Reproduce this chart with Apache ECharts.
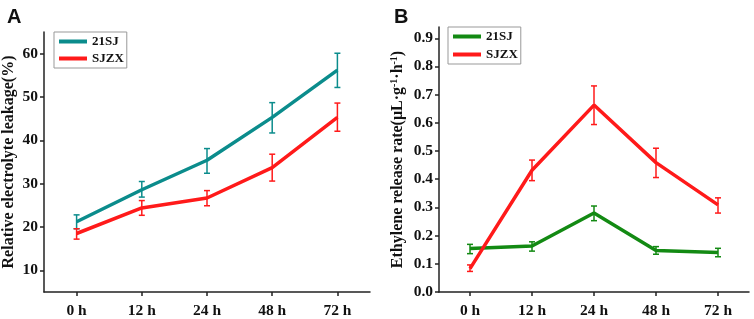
<!DOCTYPE html>
<html>
<head>
<meta charset="utf-8">
<script src="https://cdn.jsdelivr.net/npm/echarts@6/dist/echarts.min.js"></script>
<style>
  html, body { margin: 0; padding: 0; background: #fff; }
  #main { width: 754px; height: 319px; }
</style>
</head>
<body>
<div id="main"></div>
<script>
// categories (time after treatment)
const hours = ['0 h', '12 h', '24 h', '48 h', '72 h']

// A: relative electrolyte leakage (%)
const leak21SJ = [21.2, 28.6, 35.4, 45.3, 56.2]
const leak21SJLow = [19.6, 26.9, 32.4, 41.7, 52.2]
const leak21SJHigh = [22.8, 30.5, 38.1, 48.7, 60.1]
const leakSJZX = [18.5, 24.4, 26.7, 33.7, 45.3]
const leakSJZXLow = [17.2, 22.7, 24.9, 30.6, 42.1]
const leakSJZXHigh = [19.6, 26.1, 28.4, 36.8, 48.6]
const leakTicks = [10, 20, 30, 40, 50, 60]

// B: ethylene release rate
const eth21SJ = [0.154, 0.163, 0.280, 0.147, 0.140]
const eth21SJLow = [0.136, 0.145, 0.253, 0.134, 0.125]
const eth21SJHigh = [0.169, 0.178, 0.305, 0.161, 0.155]
const ethSJZX = [0.083, 0.432, 0.663, 0.459, 0.309]
const ethSJZXLow = [0.073, 0.395, 0.594, 0.406, 0.280]
const ethSJZXHigh = [0.096, 0.468, 0.731, 0.510, 0.334]
const ethTicks = [0, 0.1, 0.2, 0.3, 0.4, 0.5, 0.6, 0.7, 0.8, 0.9]

const TEAL = '#0b8c8c'
const RED = '#ff1a1a'
const GREEN = '#138a13'
const AXIS = '#222'
const SERIF = '"Liberation Serif", "Times New Roman", serif'

const chart = echarts.init(document.getElementById('main'))

// 误差棒
function errData(low, high) {
  return low.map((v, i) => [i, v, high[i]])
}
function errSeries(idx, color, low, high) {
  return {
    type: 'custom',
    xAxisIndex: idx,
    yAxisIndex: idx,
    silent: true,
    z: 3,
    encode: { x: 0, y: [1, 2] },
    data: errData(low, high),
    renderItem: (params, api) => {
      const x = api.value(0)
      const lo = api.coord([x, api.value(1)])
      const hi = api.coord([x, api.value(2)])
      const w = 3
      const style = { stroke: color, lineWidth: 1.5 }
      return {
        type: 'group',
        children: [
          { type: 'line', shape: { x1: lo[0], y1: lo[1], x2: hi[0], y2: hi[1] }, style },
          { type: 'line', shape: { x1: lo[0] - w, y1: lo[1], x2: lo[0] + w, y2: lo[1] }, style },
          { type: 'line', shape: { x1: hi[0] - w, y1: hi[1], x2: hi[0] + w, y2: hi[1] }, style }
        ]
      }
    }
  }
}
function lineSeries(idx, name, color, data) {
  return {
    name,
    type: 'line',
    xAxisIndex: idx,
    yAxisIndex: idx,
    symbol: 'none',
    z: 2,
    lineStyle: { color, width: 3.5 },
    itemStyle: { color },
    data
  }
}

const axisLine = { show: true, lineStyle: { color: AXIS, width: 1.5 } }
const labelFont = { color: '#111', fontFamily: SERIF, fontWeight: 'bold', fontSize: 15.5 }
const nameFont = { color: '#111', fontFamily: SERIF, fontWeight: 'bold', fontSize: 16 }

function xAxis(idx) {
  return {
    type: 'category',
    gridIndex: idx,
    data: hours,
    axisLine,
    axisTick: { show: true, alignWithLabel: true, length: 4, lineStyle: { color: AXIS, width: 1.5 } },
    axisLabel: Object.assign({ margin: 11 }, labelFont),
    splitLine: { show: false }
  }
}

function legendItem(name, color) {
  return { name, itemStyle: { color, opacity: 0 }, lineStyle: { color, width: 4 } }
}

function legend(left, top, gap, items) {
  return {
    orient: 'vertical',
    left,
    top,
    padding: [3, 3, 3, 3],
    itemGap: gap,
    itemWidth: 28,
    itemHeight: 14,
    borderColor: '#999',
    borderWidth: 1,
    textStyle: { color: '#111', fontFamily: SERIF, fontWeight: 'bold', fontSize: 13 },
    data: items
  }
}

const option = {
  animation: false,
  title: [
    { text: 'A', left: 2, top: 2, textStyle: { fontFamily: '"Liberation Sans", Arial, sans-serif', fontWeight: 'bold', fontSize: 20, color: '#111' } },
    { text: 'B', left: 389, top: 2, textStyle: { fontFamily: '"Liberation Sans", Arial, sans-serif', fontWeight: 'bold', fontSize: 20, color: '#111' } }
  ],
  legend: [
    legend(54, 32, 4, [legendItem('21SJ', TEAL), legendItem('SJZX', RED)]),
    legend(448, 27, 5, [legendItem('21SJ', GREEN), legendItem('SJZX', RED)])
  ],
  grid: [
    { left: 44, top: 32, width: 326, height: 263 },
    { left: 439, top: 27, width: 310, height: 268 }
  ],
  xAxis: [xAxis(0), xAxis(1)],
  yAxis: [
    {
      type: 'value',
      gridIndex: 0,
      min: 5,
      max: 65,
      name: 'Relative electrolyte leakage(%)',
      nameLocation: 'middle',
      nameGap: 27,
      nameTextStyle: nameFont,
      axisLine,
      axisTick: { show: true, length: 4, customValues: leakTicks, lineStyle: { color: AXIS, width: 1.5 } },
      axisLabel: Object.assign({ margin: 6, customValues: leakTicks }, labelFont),
      splitLine: { show: false }
    },
    {
      type: 'value',
      gridIndex: 1,
      min: 0,
      max: 0.94,
      name: 'Ethylene release rate(μL·g{sup|-1}·h{sup|-1})',
      nameLocation: 'middle',
      nameGap: 32,
      nameTextStyle: Object.assign({
        rich: { sup: { fontFamily: SERIF, fontWeight: 'bold', fontSize: 10, color: '#111', verticalAlign: 'top', padding: [0, 0, 8, 0] } }
      }, nameFont),
      axisLine,
      axisTick: { show: true, length: 4, customValues: ethTicks, lineStyle: { color: AXIS, width: 1.5 } },
      axisLabel: Object.assign({ margin: 6, customValues: ethTicks, formatter: (v) => v.toFixed(1) }, labelFont),
      splitLine: { show: false }
    }
  ],
  series: [
    lineSeries(0, '21SJ', TEAL, leak21SJ),
    lineSeries(0, 'SJZX', RED, leakSJZX),
    errSeries(0, TEAL, leak21SJLow, leak21SJHigh),
    errSeries(0, RED, leakSJZXLow, leakSJZXHigh),
    lineSeries(1, '21SJ', GREEN, eth21SJ),
    lineSeries(1, 'SJZX', RED, ethSJZX),
    errSeries(1, GREEN, eth21SJLow, eth21SJHigh),
    errSeries(1, RED, ethSJZXLow, ethSJZXHigh)
  ]
}
chart.setOption(option, true)
</script>
</body>
</html>
